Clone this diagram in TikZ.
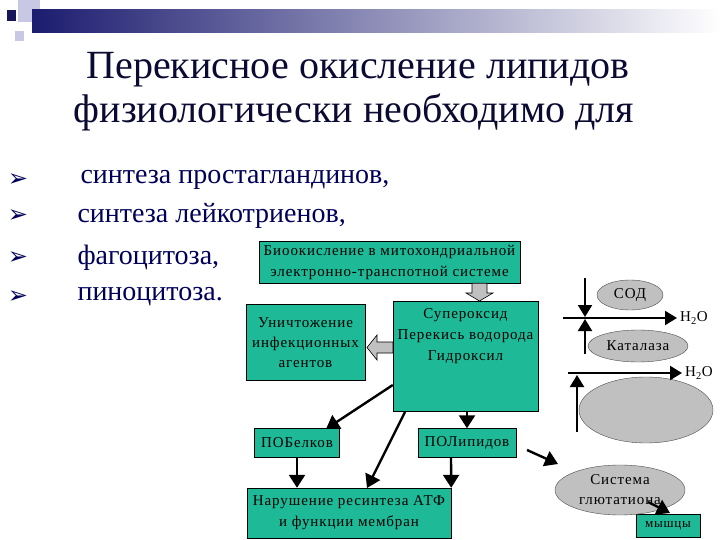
\documentclass[tikz,border=0pt]{standalone}
\usepackage{fontspec}
\setmainfont{Liberation Serif}
\newfontfamily\symfont{DejaVu Sans}
\newfontfamily\spacedfont[LetterSpace=6]{Liberation Serif}
\usetikzlibrary{arrows.meta,shapes.geometric}
\definecolor{teal1}{RGB}{30,186,152}
\definecolor{gray1}{RGB}{192,192,192}
\definecolor{navy1}{RGB}{0,0,90}
\definecolor{titlec}{RGB}{10,10,50}
\definecolor{lav}{RGB}{200,200,228}
\definecolor{barc}{RGB}{28,28,112}
\tikzset{
  box/.style={draw=black, fill=teal1, inner sep=0pt, align=center, font=\spacedfont\fontsize{15}{21}\selectfont},
  oval/.style={ellipse, draw=black!70, fill=gray1, inner sep=0pt, align=center, font=\spacedfont\fontsize{15}{20}\selectfont},
  conn/.style={draw=black, line width=2.4pt, -{Triangle[length=13pt,width=16pt]}},
  thinconn/.style={draw=black, line width=2pt, -{Triangle[length=12pt,width=14pt]}},
  blockarrow/.style={draw=black, fill=gray1, line width=0.6pt},
  bullettext/.style={anchor=west, text=navy1, font=\fontsize{28}{32}\selectfont},
  bulletmark/.style={text=navy1, font=\symfont\fontsize{24}{28}\selectfont},
  titletext/.style={text=titlec, font=\fontsize{40}{44}\selectfont},
  water/.style={anchor=west, font=\spacedfont\fontsize{15}{16}\selectfont, inner sep=1pt}
}
\begin{document}
\begin{tikzpicture}[x=1pt,y=-1pt]
\useasboundingbox (0,0) rectangle (720,540);
\fill[white] (0,0) rectangle (720,540);
% header decoration
\fill[lav] (18,0) rectangle (40,22);
\fill[lav] (15,31) rectangle (24,41);
\shade[left color=barc, right color=white] (32,10) rectangle (720,33);
\fill[barc!80!black] (7,10) rectangle (16,21);
% title
\node[titletext] (t1) at (358,70) {Перекисное окисление липидов};
\node[titletext] (t2) at (354,112) {физиологически необходимо для};
% bullets
\node[bulletmark] (m1) at (18,180) {➢};
\node[bulletmark] (m2) at (18,216) {➢};
\node[bulletmark] (m3) at (18,258) {➢};
\node[bulletmark] (m4) at (18,297) {➢};
\node[bullettext] (b1) at (77,180) {синтеза простагландинов,};
\node[bullettext] (b2) at (74,216) {синтеза лейкотриенов,};
\node[bullettext] (b3) at (74,258) {фагоцитоза,};
\node[bullettext] (b4) at (74,297) {пиноцитоза.};
% boxes
\node[box, minimum width=261pt, minimum height=42pt] (bio) at (389.5,262) {Биоокисление в митохондриальной\\электронно-транспотной системе};
\node[box, minimum width=119pt, minimum height=76pt, font=\spacedfont\fontsize{15}{20}\selectfont] (kill) at (305.5,342.5) {Уничтожение\\инфекционных\\агентов};
\node[box, minimum width=145pt, minimum height=110pt] (ros) at (465.5,356) {};
\node[anchor=north, align=center, font=\spacedfont\fontsize{15}{21}\selectfont, inner sep=0pt] (rostext) at (465.5,308) {Супероксид\\Перекись водорода\\Гидроксил};
\node[box, minimum width=85pt, minimum height=29pt] (prot) at (297,443) {ПОБелков};
\node[box, minimum width=98pt, minimum height=29pt] (lip) at (467,443) {ПОЛипидов};
\node[box, minimum width=204pt, minimum height=50pt] (atp) at (349,513) {Нарушение ресинтеза АТФ\\и функции мембран};
\node[box, minimum width=64pt, minimum height=23pt, font=\spacedfont\fontsize{13}{14}\selectfont] (musc) at (668,526) {мышцы};
% ellipses
\node[oval, minimum width=66pt, minimum height=30pt] (sod) at (630,295) {СОД};
\node[oval, minimum width=100pt, minimum height=32pt] (cat) at (638,346) {Каталаза};
\node[oval, minimum width=134pt, minimum height=66pt] (big) at (646,410) {};
\node[oval, minimum width=130pt, minimum height=50pt] (glut) at (620,490) {Система\\глютатиона};
% block arrows
\draw[blockarrow] (bio.south -| 472,0) -- (472,293) -- (466,293) -- (479.5,301) -- (493,293) -- (487,293) -- (bio.south -| 487,0) -- cycle;
\draw[blockarrow] (ros.west |- 0,342) -- (377,342) -- (377,335) -- (367,347.5) -- (377,360) -- (377,353) -- (ros.west |- 0,353) -- cycle;
% black arrows
\draw[conn] (ros.west |- 0,385) -- (326,429);
\draw[conn] (405,412) -- (367,488);
\draw[conn] (ros.south -| lip.north) -- (lip.north);
\draw[conn] (prot.south) -- (prot.south |- atp.north);
\draw[conn] (lip.south -| 451,0) -- (atp.north east);
\draw[conn] (527,450) -- (558,464);
\draw[conn] (648,502) -- (670,513);
% right-side arrows
\coordinate (v1a) at (585,278);
\coordinate (h1a) at (563,318);
\coordinate (h1b) at (677,318);
\coordinate (v2a) at (585,354);
\coordinate (h2a) at (568,373);
\coordinate (h2b) at (682,373);
\coordinate (v3a) at (577,432);
\draw[thinconn] (v1a) -- (585,317);
\draw[thinconn] (h1a) -- (h1b);
\draw[thinconn] (v2a) -- (585,319);
\draw[thinconn] (h2a) -- (h2b);
\draw[thinconn] (v3a) -- (577,375);
\node[water] (w1) at (679,318) {H\textsubscript{2}O};
\node[water] (w2) at (684,373) {H\textsubscript{2}O};
\end{tikzpicture}
\end{document}
